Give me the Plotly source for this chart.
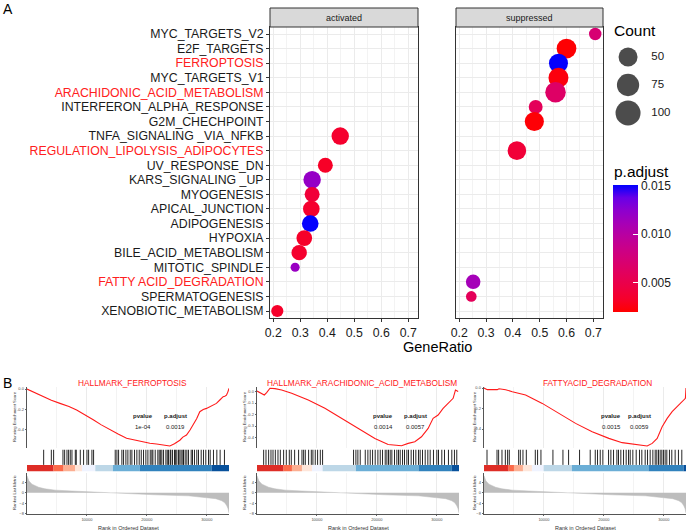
import plotly.graph_objects as go

W, H = 689, 531
FONT = "Liberation Sans"

# ---------------- panel A: dot plot ----------------
pathways = ["MYC_TARGETS_V2", "E2F_TARGETS", "FERROPTOSIS", "MYC_TARGETS_V1",
            "ARACHIDONIC_ACID_METABOLISM", "INTERFERON_ALPHA_RESPONSE", "G2M_CHECHPOINT",
            "TNFA_SIGNALING _VIA_NFKB", "REGULATION_LIPOLYSIS_ADIPOCYTES", "UV_RESPONSE_DN",
            "KARS_SIGNALING _UP", "MYOGENESIS", "APICAL_JUNCTION", "ADIPOGENESIS", "HYPOXIA",
            "BILE_ACID_METABOLISM", "MITOTIC_SPINDLE", "FATTY ACID_DEGRADATION",
            "SPERMATOGENESIS", "XENOBIOTIC_METABOLISM"]
red_labels = ["FERROPTOSIS", "ARACHIDONIC_ACID_METABOLISM",
              "REGULATION_LIPOLYSIS_ADIPOCYTES", "FATTY ACID_DEGRADATION"]

act_terms = ["TNFA_SIGNALING _VIA_NFKB", "UV_RESPONSE_DN", "KARS_SIGNALING _UP", "MYOGENESIS",
             "APICAL_JUNCTION", "ADIPOGENESIS", "HYPOXIA", "BILE_ACID_METABOLISM",
             "MITOTIC_SPINDLE", "XENOBIOTIC_METABOLISM"]
act_ratio = [0.448, 0.393, 0.344, 0.344, 0.341, 0.337, 0.315, 0.296, 0.281, 0.215]
act_count = [40, 26, 40, 26, 35, 35, 30, 28, 5, 14]
act_padj = [0.0035, 0.0032, 0.0120, 0.0040, 0.0035, 0.0150, 0.0033, 0.0035, 0.0118, 0.0033]

sup_terms = ["MYC_TARGETS_V2", "E2F_TARGETS", "FERROPTOSIS", "MYC_TARGETS_V1",
             "ARACHIDONIC_ACID_METABOLISM", "INTERFERON_ALPHA_RESPONSE", "G2M_CHECHPOINT",
             "REGULATION_LIPOLYSIS_ADIPOCYTES", "FATTY ACID_DEGRADATION", "SPERMATOGENESIS"]
sup_ratio = [0.707, 0.600, 0.570, 0.570, 0.559, 0.485, 0.480, 0.415, 0.252, 0.245]
sup_count = [15, 55, 50, 57, 61, 21, 51, 47, 24, 9]
sup_padj = [0.0072, 0.0021, 0.0150, 0.0024, 0.0065, 0.0058, 0.0022, 0.0040, 0.0112, 0.0058]

count_breaks = [50, 75, 100]
padj_ticks = [0.005, 0.010, 0.015]
ratio_ticks = [0.2, 0.3, 0.4, 0.5, 0.6, 0.7]

# ---------------- panel B: GSEA plots ----------------
gsea_titles = ["HALLMARK_FERROPTOSIS", "HALLMARK_ARACHIDONIC_ACID_METABOLISM", "FATTYACID_DEGRADATION"]
gsea_pvalue = ["1e-04", "0.0014", "0.0015"]
gsea_padj = ["0.0019", "0.0057", "0.0059"]
max_rank = 33700
rank_ticks = [10000, 20000, 30000]
metric_ticks = [4, 0, -4, -8]

es1_rank = [0, 1500, 2780, 4060, 5500, 7000, 8280, 9700, 11050, 12400, 13830, 15200, 16610,
            18000, 19390, 20500, 21610, 22700, 23830, 24600, 25500, 26000, 26610, 27200, 27720,
            28300, 28830, 29400, 29940, 30500, 31050, 31600, 32170, 32720, 33000, 33280, 33500, 33700]
es1_score = [0.0, -0.04, -0.075, -0.11, -0.14, -0.17, -0.205, -0.25, -0.30, -0.35, -0.40, -0.44,
             -0.48, -0.50, -0.514, -0.53, -0.537, -0.545, -0.556, -0.535, -0.50, -0.47, -0.449,
             -0.40, -0.351, -0.29, -0.221, -0.20, -0.189, -0.17, -0.156, -0.14, -0.107, -0.075,
             -0.07, -0.059, -0.03, 0.007]
es2_rank = [0, 778, 1220, 1610, 2170, 3000, 4110, 5780, 8550, 11330, 14110, 16890, 19670, 21880,
            22990, 24110, 25220, 26330, 27440, 28550, 29380, 30220, 31050, 31890, 32720, 33110,
            33390, 33560]
es2_score = [0.004, -0.016, -0.03, -0.01, 0.028, 0.025, 0.013, -0.016, -0.074, -0.146, -0.233,
             -0.32, -0.407, -0.46, -0.468, -0.47, -0.45, -0.436, -0.393, -0.32, -0.233, -0.204,
             -0.146, -0.103, -0.059, 0.013, 0.006, 0.0]
es3_rank = [0, 556, 1390, 2220, 2500, 3610, 4720, 6940, 9720, 12500, 15280, 18050, 20830, 23050,
            25280, 27220, 28060, 28890, 29720, 30560, 31390, 32500, 33330, 33600, 33700]
es3_score = [0.0, -0.016, -0.016, -0.016, -0.007, -0.016, -0.036, -0.068, -0.15, -0.247, -0.345,
             -0.426, -0.491, -0.533, -0.55, -0.566, -0.54, -0.491, -0.377, -0.296, -0.231,
             -0.166, -0.117, -0.1, 0.0]

hits1 = [2780, 4060, 4440, 6000, 6280, 6670, 6940, 7220, 7500, 8060, 8220, 8890, 9440, 10000,
         10280, 10830, 11110, 14720, 15000, 15280, 15830, 16110, 16500, 16830, 17220, 17500,
         17940, 18330, 18720, 19060, 19440, 19830, 20170, 20560, 20830, 21000, 21390, 21830,
         22060, 22300, 22500, 22780, 23170, 23400, 23610, 23890, 24000, 24280, 24610, 24800,
         25000, 25280, 25500, 25720, 26000, 26110, 26390, 26670, 26940, 27390, 27610, 27940,
         28330, 28610, 29060, 29440, 29830, 30280, 30560, 31110, 31670, 32220, 32940]
hits2 = [1110, 1500, 1940, 2330, 2670, 3060, 3500, 3890, 4440, 4890, 5390, 5720, 6280, 6940,
         7500, 7780, 8060, 8610, 9060, 9330, 9720, 10110, 10560, 10940, 16110, 16500, 16830,
         17220, 18060, 18500, 18890, 19280, 19720, 20170, 20560, 20940, 21390, 21670, 21940,
         22220, 22500, 22940, 23330, 23610, 23890, 24280, 24610, 25000, 25280, 25720, 26110,
         26500, 26940, 27220, 27610, 28060, 28500, 28890, 29440, 30000, 30280, 30830, 31280,
         31940, 32500, 32940, 33330]
hits3 = [500, 2170, 2440, 3000, 3560, 3940, 4220, 5780, 6060, 6500, 7060, 8560, 8940, 9500,
         11500, 13170, 14110, 15940, 17720, 18560, 18940, 19390, 19830, 20780, 21170, 21610,
         22170, 22440, 22830, 23280, 23720, 24110, 24390, 24830, 25390, 25940, 26330, 26890,
         27280, 27720, 28170, 28560, 28830, 29110, 29390, 29670, 29940, 30220, 30500, 30940,
         31330, 31890, 32440, 33000]

strip_colors = ["#DE2D26", "#FB6A4A", "#FCAE91", "#FEE5D9", "#EFF3FF", "#BDD7E7",
                "#6BAED6", "#3182BD", "#08519C"]
strip1_edges = [0, 4440, 6110, 8060, 9170, 11390, 14330, 18830, 30780, 33700]
strip2_edges = [0, 4440, 5830, 7500, 9170, 10940, 16500, 26940, 32500, 33700]
strip3_edges = [0, 4110, 5000, 6500, 8000, 9940, 14670, 27440, 33280, 33700]

metric_rank = [0, 300, 830, 1940, 3000, 4720, 7500, 10280, 13060, 17000, 21390, 26940, 30280,
               31500, 32500, 33000, 33330, 33550, 33700]
metric_value = [6.5, 4.6, 3.3, 2.1, 1.5, 1.0, 0.65, 0.35, 0.0, -0.4, -0.8, -1.2, -1.8, -2.3,
                -3.1, -3.9, -5.0, -6.2, -7.8]


def px(x):
    return x / W


def py(y):
    return 1 - y / H


# red -> blue gradient interpolated in CIE Lab, like ggplot's default gradient
def hex_to_lab(h):
    rgb = [int(h[i:i + 2], 16) / 255 for i in (1, 3, 5)]
    r, g, b = [c / 12.92 if c <= 0.04045 else ((c + 0.055) / 1.055) ** 2.4 for c in rgb]
    X = (0.4124 * r + 0.3576 * g + 0.1805 * b) / 0.95047
    Y = 0.2126 * r + 0.7152 * g + 0.0722 * b
    Z = (0.0193 * r + 0.1192 * g + 0.9505 * b) / 1.08883
    f = lambda t: t ** (1 / 3) if t > 0.008856 else 7.787 * t + 16 / 116
    fx, fy, fz = f(X), f(Y), f(Z)
    return 116 * fy - 16, 500 * (fx - fy), 200 * (fy - fz)


def lab_to_hex(L, a, b):
    fy = (L + 16) / 116
    fx, fz = fy + a / 500, fy - b / 200
    finv = lambda t: t ** 3 if t ** 3 > 0.008856 else (t - 16 / 116) / 7.787
    X, Y, Z = finv(fx) * 0.95047, finv(fy), finv(fz) * 1.08883
    lin = [3.2406 * X - 1.5372 * Y - 0.4986 * Z,
           -0.9689 * X + 1.8758 * Y + 0.0415 * Z,
           0.0557 * X - 0.2040 * Y + 1.0570 * Z]
    out = []
    for c in lin:
        c = 12.92 * c if c <= 0.0031308 else 1.055 * max(c, 0) ** (1 / 2.4) - 0.055
        out.append(int(round(min(max(c, 0), 1) * 255)))
    return "#%02x%02x%02x" % tuple(out)


lo, hi = hex_to_lab("#FF0000"), hex_to_lab("#0000FF")
colorscale = [[i / 10, lab_to_hex(*[lo[k] + (hi[k] - lo[k]) * i / 10 for k in range(3)])]
              for i in range(11)]


def dot_size(c):
    return 4.5 + 2.05 * c ** 0.5


def note(text, x, y, size, color="black", xanchor="center", **kw):
    return dict(text=text, x=px(x), y=py(y), xref="paper", yref="paper", showarrow=False,
                xanchor=xanchor, yanchor="middle", font=dict(size=size, color=color), **kw)


fig = go.Figure()

for terms, ratio, cnt, padj, xa, ya in [(act_terms, act_ratio, act_count, act_padj, "x", "y"),
                                        (sup_terms, sup_ratio, sup_count, sup_padj, "x2", "y2")]:
    fig.add_trace(go.Scatter(
        x=ratio, y=[pathways.index(t) for t in terms], mode="markers",
        marker=dict(size=[dot_size(c) for c in cnt], color=padj, coloraxis="coloraxis",
                    line=dict(width=0), opacity=1),
        xaxis=xa, yaxis=ya, showlegend=False, hoverinfo="skip"))

# Count legend
fig.add_trace(go.Scatter(
    x=[0.2] * len(count_breaks), y=list(range(len(count_breaks))), mode="markers",
    marker=dict(size=[dot_size(c) for c in count_breaks], color="black", line=dict(width=0)),
    xaxis="x12", yaxis="y12", showlegend=False, hoverinfo="skip"))
fig.add_trace(go.Scatter(
    x=[1.9] * len(count_breaks), y=list(range(len(count_breaks))), mode="text",
    text=[str(c) for c in count_breaks], textposition="middle right",
    textfont=dict(size=11.5, color="#1a1a1a", family=FONT),
    xaxis="x12", yaxis="y12", showlegend=False, hoverinfo="skip"))

ytext = ['<span style="color:#ff2020">%s</span>' % p if p in red_labels else p for p in pathways]

grid = "#ebebeb"
border = "#333333"
xa_common = dict(range=[0.188, 0.736], tickmode="array", tickvals=ratio_ticks,
                 ticktext=["%.1f" % v for v in ratio_ticks],
                 tickfont=dict(size=12.3, color="#1a1a1a"), ticks="outside", ticklen=3,
                 tickcolor=border, showgrid=True, gridcolor=grid, gridwidth=1,
                 minor=dict(tick0=0.25, dtick=0.1, showgrid=True, gridcolor="#f3f3f3", ticks=""),
                 showline=True, mirror=True, linecolor=border, linewidth=1, zeroline=False,
                 automargin=False)
ya_common = dict(domain=[py(318), py(27)], range=[19.48, -0.48], tickmode="array",
                 tickvals=list(range(len(pathways))), showgrid=True, gridcolor=grid,
                 showline=True, mirror=True, linecolor=border, linewidth=1, zeroline=False,
                 automargin=False)
layout_axes = dict(
    xaxis=dict(domain=[px(270), px(418)], anchor="y", **xa_common),
    yaxis=dict(anchor="x", ticktext=ytext, tickfont=dict(size=12.3, color="#1a1a1a"),
               ticks="outside", ticklen=3, tickcolor=border, **ya_common),
    xaxis2=dict(domain=[px(456), px(603)], anchor="y2", **xa_common),
    yaxis2=dict(anchor="x2", showticklabels=False, ticks="", **ya_common),
    xaxis12=dict(domain=[px(613), px(680)], range=[-0.9, 4], visible=False, anchor="y12",
                 automargin=False),
    yaxis12=dict(domain=[py(127), py(43)], range=[2.5, -0.5], visible=False, anchor="x12",
                 automargin=False),
)

coloraxis = dict(
    colorscale=colorscale, cmin=0.0020, cmax=0.01505,
    colorbar=dict(x=px(613), xanchor="left", y=py(312), yanchor="bottom", len=127 / H,
                  lenmode="fraction", thickness=25, thicknessmode="pixels", outlinewidth=0,
                  xpad=0, ypad=0, ticks="inside", tickcolor="white", ticklen=5,
                  tickvals=padj_ticks, ticktext=["%.3f" % v for v in padj_ticks],
                  tickfont=dict(size=12, color="#1a1a1a", family=FONT)))

shapes = []
annotations = []
for x0, x1, label in [(270, 418, "activated"), (456, 603, "suppressed")]:
    shapes.append(dict(type="rect", xref="paper", yref="paper", x0=px(x0), x1=px(x1),
                       y0=py(27), y1=py(8), fillcolor="#d9d9d9", line=dict(color=border, width=1)))
    annotations.append(note(label, (x0 + x1) / 2, 17.5, 9, "#1a1a1a"))

annotations += [
    note("A", 1, 9, 14, xanchor="left"),
    note("B", 1, 383, 14, xanchor="left"),
    note("GeneRatio", 437, 347, 14.5),
    note("Count", 612, 30, 15.5, xanchor="left"),
    note("p.adjust", 612, 171, 15.5, xanchor="left"),
]

# GSEA layout (pixel placement of each of the three plots)
gsea_left = [27, 257, 484]
gsea_es_range = [[-0.576, 0.02], [-0.49, 0.039], [-0.585, 0.01]]
gsea_es_ticks = [[0.0, -0.2, -0.4], [0.0, -0.1, -0.2, -0.3, -0.4], [0.0, -0.2, -0.4]]
gsea_ylab_x = [14, 244, 474]
gsea_table_x = [(143, 175), (383, 415), (611, 639)]
gsea_title_x = [132, 362, 597]

es_data = [(es1_rank, es1_score), (es2_rank, es2_score), (es3_rank, es3_score)]
hits_data = [hits1, hits2, hits3]
strip_data = [strip1_edges, strip2_edges, strip3_edges]

small = dict(size=4, color="#4d4d4d", family=FONT)
for k in range(3):
    a_es, a_bc, a_rk = 3 + 3 * k, 4 + 3 * k, 5 + 3 * k
    L = gsea_left[k]
    dom = [px(L), px(L + 202)]
    # running enrichment score
    fig.add_trace(go.Scatter(x=es_data[k][0], y=es_data[k][1], mode="lines",
                             line=dict(color="#ff1a1a", width=1.1),
                             xaxis="x%d" % a_es, yaxis="y%d" % a_es, showlegend=False, hoverinfo="skip"))
    # barcode of gene hits
    bx, by = [], []
    for r in hits_data[k]:
        bx += [r, r, None]
        by += [0.3, 1.0, None]
    fig.add_trace(go.Scatter(x=bx, y=by, mode="lines", line=dict(color="rgba(0,0,0,0.85)", width=1.0),
                             xaxis="x%d" % a_bc, yaxis="y%d" % a_bc, showlegend=False, hoverinfo="skip"))
    for i, col in enumerate(strip_colors):
        shapes.append(dict(type="rect", xref="x%d" % a_bc, yref="y%d" % a_bc,
                           x0=strip_data[k][i], x1=strip_data[k][i + 1], y0=0, y1=0.3,
                           fillcolor=col, line=dict(width=0), layer="above"))
    # ranked list metric
    fig.add_trace(go.Scatter(x=metric_rank, y=metric_value, mode="lines", fill="tozeroy",
                             line=dict(color="#bdbdbd", width=0.5), fillcolor="#bdbdbd",
                             xaxis="x%d" % a_rk, yaxis="y%d" % a_rk, showlegend=False, hoverinfo="skip"))

    vgrid = dict(showgrid=True, gridcolor=grid, gridwidth=0.6, tickmode="array",
                 tickvals=rank_ticks, ticktext=[str(v) for v in rank_ticks],
                 minor=dict(tick0=5000, dtick=10000, showgrid=True, gridcolor="#f3f3f3", ticks=""))
    layout_axes["xaxis%d" % a_es] = dict(domain=dom, range=[0, max_rank], anchor="y%d" % a_es,
                                         showticklabels=False, ticks="", zeroline=False,
                                         automargin=False, **vgrid)
    layout_axes["yaxis%d" % a_es] = dict(domain=[py(448), py(387)], range=gsea_es_range[k],
                                         anchor="x%d" % a_es, tickmode="array",
                                         tickvals=gsea_es_ticks[k],
                                         ticktext=["%.1f" % v for v in gsea_es_ticks[k]],
                                         tickfont=small, ticks="outside", ticklen=1.5,
                                         tickcolor="#666", showgrid=False, zeroline=False,
                                         showline=True, linecolor="#555", linewidth=0.6,
                                         automargin=False)
    layout_axes["xaxis%d" % a_bc] = dict(domain=dom, range=[0, max_rank], anchor="y%d" % a_bc,
                                         visible=False, automargin=False)
    layout_axes["yaxis%d" % a_bc] = dict(domain=[py(471.5), py(449.5)], range=[0, 1],
                                         anchor="x%d" % a_bc, visible=False, automargin=False)
    layout_axes["xaxis%d" % a_rk] = dict(domain=dom, range=[0, max_rank], anchor="y%d" % a_rk,
                                         tickfont=small, ticks="outside", ticklen=1.5,
                                         tickcolor="#666", zeroline=False, automargin=False,
                                         showline=True, linecolor="#555", linewidth=0.6, **vgrid)
    layout_axes["yaxis%d" % a_rk] = dict(domain=[py(514), py(473)], range=[-8.2, 7.6],
                                         anchor="x%d" % a_rk, tickmode="array",
                                         tickvals=metric_ticks, tickfont=small, ticks="outside",
                                         ticklen=1.5, tickcolor="#666", showgrid=False,
                                         zeroline=False, showline=True, linecolor="#555",
                                         linewidth=0.6, automargin=False)

    annotations += [
        note(gsea_titles[k], gsea_title_x[k], 383, 8.3, "#ff2020"),
        note("Running Enrichment Score", gsea_ylab_x[k], 417, 4.2, "#333", textangle=-90),
        note("Ranked List Metric", gsea_ylab_x[k], 493, 4.2, "#333", textangle=-90),
        note("Rank in Ordered Dataset", L + 101, 527.5, 5.5, "#333"),
        note("<b>pvalue</b>", gsea_table_x[k][0], 416, 6, "#1a1a1a"),
        note("<b>p.adjust</b>", gsea_table_x[k][1], 416, 6, "#1a1a1a"),
        note(gsea_pvalue[k], gsea_table_x[k][0], 427, 6, "#1a1a1a"),
        note(gsea_padj[k], gsea_table_x[k][1], 427, 6, "#1a1a1a"),
    ]

fig.update_layout(
    template="none",
    width=W, height=H, margin=dict(l=0, r=0, t=0, b=0, pad=0),
    paper_bgcolor="white", plot_bgcolor="white",
    font=dict(family=FONT, color="black"),
    coloraxis=coloraxis, shapes=shapes, annotations=annotations,
    **layout_axes)

# the page body has a default 8px margin; drop it so the figure fills the window exactly
fig.write_html("out.html", config={"displayModeBar": False},
               post_script="document.body.style.margin = '0px';")
